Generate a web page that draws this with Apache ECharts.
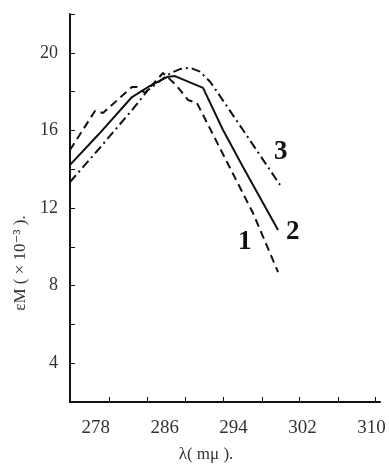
<!DOCTYPE html>
<html>
<head>
<meta charset="utf-8">
<script src="https://cdn.jsdelivr.net/npm/echarts@6/dist/echarts.min.js"></script>
<style>
  html, body { margin: 0; padding: 0; background: #fff; }
  #chart { width: 389px; height: 470px; }
</style>
</head>
<body>
<div id="chart"></div>
<script>
// wavelength (mμ) and εM (×10⁻³)
const curve1X = [275.0, 277.9, 278.83, 282.2, 282.78, 283.71, 285.8, 286.03, 287.31, 288.7, 289.75, 293.23, 296.25, 299.16];
const curve1Y = [14.99, 17.0, 16.9, 18.24, 18.24, 17.93, 18.96, 19.0, 18.34, 17.57, 17.41, 14.37, 11.74, 8.7];

const curve2X = [275.0, 278.25, 282.2, 284.29, 286.26, 287.19, 290.45, 292.77, 295.09, 299.16];
const curve2Y = [14.22, 15.76, 17.72, 18.29, 18.75, 18.8, 18.19, 16.02, 14.11, 10.87];

const curve3X = [275.0, 278.25, 282.2, 284.06, 286.61, 287.77, 288.94, 290.1, 291.26, 292.07, 295.09, 299.39];
const curve3Y = [13.34, 14.99, 17.05, 18.08, 18.94, 19.16, 19.23, 19.03, 18.51, 18.0, 16.02, 13.19];

const xLabelValues = [278, 286, 294, 302, 310];
const xTickValues = [279.53, 283.94, 288.35, 292.77, 297.3, 301.6, 306.1, 310.5];
const yLabelValues = [4, 8, 12, 16, 20];
const yTickValues = [4, 6, 8, 10, 12, 14, 16, 18, 20, 22];

const pairs = (xs, ys) => xs.map((x, i) => [x, ys[i]]);

const serif = '"Liberation Serif", "DejaVu Serif", serif';
const ink = '#111';

const chart = echarts.init(document.getElementById('chart'), null, { renderer: 'canvas' });

const curveLabel = (offset) => ({
    show: true,
    formatter: '{a}',
    fontFamily: serif,
    fontSize: 27,
    fontWeight: 'bold',
    color: ink,
    offset: offset
});

chart.setOption({
    backgroundColor: '#fff',
    animation: false,
    grid: { left: 70, top: 14, width: 310, height: 388, containLabel: false },
    xAxis: {
        type: 'value',
        min: 275,
        max: 311,
        name: 'λ( mμ ).',
        nameLocation: 'middle',
        nameGap: 44,
        nameTextStyle: { fontFamily: serif, fontSize: 17, color: '#333', padding: [0, 38, 0, 0] },
        axisLine: { show: true, onZero: false, lineStyle: { color: ink, width: 2 } },
        axisTick: { show: true, inside: true, length: 5, customValues: xTickValues, lineStyle: { color: ink, width: 1 } },
        axisLabel: { customValues: xLabelValues, fontFamily: serif, fontSize: 19, color: '#333', margin: 17 },
        splitLine: { show: false }
    },
    yAxis: {
        type: 'value',
        min: 2,
        max: 22,
        name: 'εM ( × 10⁻³ ).',
        nameLocation: 'middle',
        nameRotate: 90,
        nameGap: 38,
        nameTextStyle: { fontFamily: serif, fontSize: 17, color: '#333', padding: [0, 110, 0, 0] },
        axisLine: { show: true, onZero: false, lineStyle: { color: ink, width: 2 } },
        axisTick: { show: true, inside: true, length: 5, customValues: yTickValues, lineStyle: { color: ink, width: 1 } },
        axisLabel: { customValues: yLabelValues, fontFamily: serif, fontSize: 18, color: '#333', margin: 12 },
        splitLine: { show: false }
    },
    series: [
        {
            name: '1',
            type: 'line',
            data: pairs(curve1X, curve1Y),
            showSymbol: false,
            lineStyle: { color: ink, width: 2, type: [8, 5] },
            endLabel: curveLabel([-48, -30])
        },
        {
            name: '2',
            type: 'line',
            data: pairs(curve2X, curve2Y),
            showSymbol: false,
            lineStyle: { color: ink, width: 2 },
            endLabel: curveLabel([0, 2])
        },
        {
            name: '3',
            type: 'line',
            data: pairs(curve3X, curve3Y),
            showSymbol: false,
            lineStyle: { color: ink, width: 2, type: [9, 4, 2, 4] },
            endLabel: curveLabel([-14, -33])
        }
    ]
});
</script>
</body>
</html>
